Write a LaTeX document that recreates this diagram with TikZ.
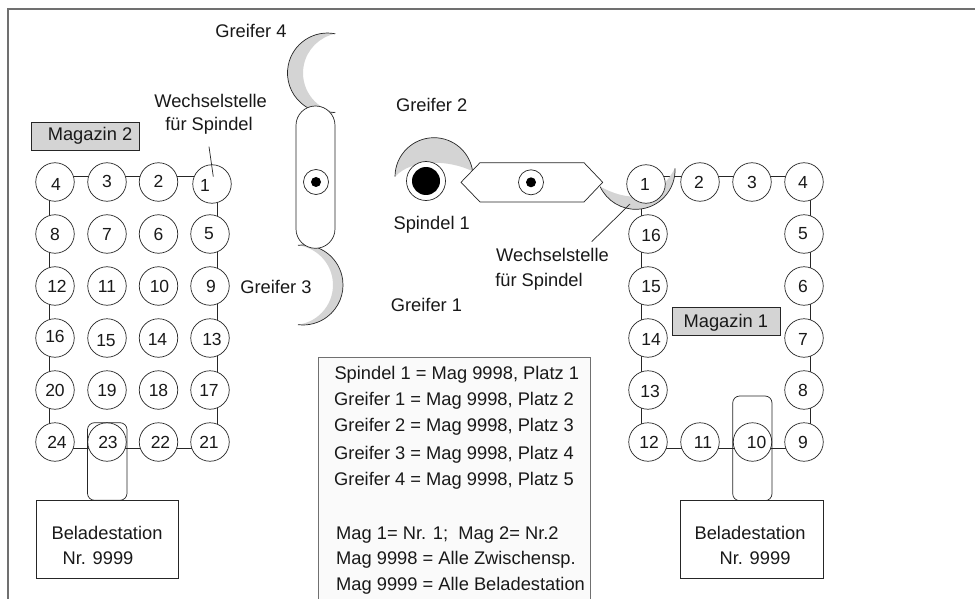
\documentclass[tikz,border=0pt]{standalone}
\usepackage{fontspec}
\setmainfont{Liberation Sans}
\definecolor{grip}{HTML}{D4D4D4}
\definecolor{frame}{HTML}{707070}
\tikzset{
  lbl/.style={inner sep=0pt,font=\fontsize{18.3}{20}\selectfont,text=black!90},
  llbl/.style={lbl,anchor=base west},
  slot/.style={circle,draw=black!85,line width=.7pt,fill=white,minimum size=38.5pt,inner sep=0pt},
  slotnum/.style={inner sep=0pt,font=\fontsize{17.5}{20}\selectfont,text=black!90},
  wire/.style={draw=black!85,line width=.7pt},
  outl/.style={draw=black!85,line width=.7pt},
  tag/.style={draw=black!85,line width=.7pt,fill=grip,inner sep=0pt,minimum width=108pt,minimum height=27.5pt,text=black},
  stat/.style={draw=black!85,line width=.7pt,fill=white,inner sep=0pt,minimum width=142.5pt,minimum height=78pt},
  piv/.style={circle,draw=black!85,line width=.7pt,fill=white,minimum size=25pt,inner sep=0pt},
  pivdot/.style={circle,fill=black,minimum size=10pt,inner sep=0pt},
}
\begin{document}
\begin{tikzpicture}[x=1pt,y=1pt,yscale=-1]
\useasboundingbox (0,0) rectangle (975,599);
\fill[white] (0,0) rectangle (975,599);
% frame
\coordinate (fbl) at (8,599); \coordinate (ftl) at (8,9); \coordinate (ftr) at (975,9);
\draw[frame,line width=1.4pt] (fbl) -- (ftl) -- (ftr);
% legend box
\coordinate (bbl) at (318,599); \coordinate (btl) at (318,357.5); \coordinate (btr) at (590,357.5); \coordinate (bbr) at (590,599);
\fill[black!2] (bbl) -- (btl) -- (btr) -- (bbr) -- cycle;
\draw[frame,line width=.9pt] (bbl) -- (btl) -- (btr) -- (bbr);
% slot centres
\foreach \n/\x/\y in {l4/55/182,l3/107/182,l2/158.5/182,l1/212/184,
  l8/55/234,l7/107/234,l6/158.5/234,l5/210/234,
  l12/55/286,l11/107/286,l10/158.5/286,l9/210/286,
  l16/55/338,l15/107/338,l14/158.5/338,l13/210/338,
  l20/55/390,l19/107/390,l18/158.5/390,l17/210/390,
  l24/55/442,l23/107/442,l22/158.5/442,l21/210/442,
  r1/646/184,r2/700/182,r3/752/182,r4/804/182,
  r16/648/234,r15/648/286,r14/648/338,r13/648/390,
  r5/804/234,r6/804/286,r7/804/338,r8/804/390,
  r12/648/442,r11/700/442,r10/752.5/442,r9/804/442}
  {\coordinate (c\n) at (\x,\y);}
% wire levels
\coordinate (wlt) at (49,176.7);
\coordinate (wlb) at (217.5,448);
\coordinate (wrt) at (641.7,176);
\coordinate (wrb) at (810,448);
% wires
\draw[wire] (cl4 |- wlt) -- (cl1 |- wlt);
\draw[wire] (cl24 |- wlb) -- (cl21 |- wlb);
\draw[wire] (wlt |- cl4) -- (wlt |- cl24);
\draw[wire] (wlb |- cl1) -- (wlb |- cl21);
\draw[wire] (cr1 |- wrt) -- (cr4 |- wrt);
\draw[wire] (cr12 |- wrb) -- (cr9 |- wrb);
\draw[wire] (wrb |- cr4) -- (wrb |- cr9);
\draw[wire] (wrt |- cr1) -- (wrt |- cr12);
% gripper 1 crescent
\fill[grip] (675,168.3) arc[start angle=-2.5,end angle=155,radius=39.3pt]
   .. controls (625,200) and (655,205) .. (675,168.3) -- cycle;
\draw[outl] (675,168.3) arc[start angle=-2.5,end angle=155,radius=39.3pt];
% gripper 2 crescent
\fill[grip] (395,176.7) arc[start angle=180,end angle=352,radius=39pt]
   .. controls (450,160) and (412,158) .. (395,176.7) -- cycle;
\draw[outl] (395,176.7) arc[start angle=180,end angle=352,radius=39pt];
% gripper 4 crescent
\fill[grip] (335.25,33.8) arc[start angle=-78.8,end angle=-281.2,radius=40pt]
   arc[start angle=101.2,end angle=258.8,radius=40pt] -- cycle;
\draw[outl] (335.25,33.8) arc[start angle=-78.8,end angle=-281.2,radius=40pt];
% gripper 3 crescent
\fill[grip] (298,245.3) arc[start angle=-97.2,end angle=97.2,radius=40pt]
   arc[start angle=82.8,end angle=-82.8,radius=40pt] -- cycle;
\draw[outl] (298,245.3) arc[start angle=-97.2,end angle=97.2,radius=40pt];
% capsule
\draw[outl,fill=white,rounded corners=19.4pt] (296,106) rectangle (335,248.3);
\node[piv] (pv) at (316,182) {}; \node[pivdot] (pvd) at (pv) {};
% hexagon
\draw[outl,fill=white] (461,182.3) -- (480,162.7) -- (584,162.7) -- (602.7,182.3) -- (584,202) -- (480,202) -- cycle;
\node[piv] (ph) at (531,182.3) {}; \node[pivdot] (phd) at (ph) {};
% spindle
\node[circle,draw=black!85,line width=.7pt,fill=white,minimum size=39pt,inner sep=0pt] (sp) at (426,181) {};
\node[circle,fill=black,minimum size=28pt,inner sep=0pt] (spd) at (sp) {};
% slots
\foreach \n/\t/\dx/\dy in {l4/4/1/2,l3/3/0/-1,l2/2/0/-1,l1/1/-7/1,
  l8/8/0/0,l7/7/0/0,l6/6/0/0,l5/5/-1/0,
  l12/12/2/0,l11/11/0/0,l10/10/1/0,l9/9/1/0,
  l16/16/0/-2,l15/15/-1/3,l14/14/-1/1,l13/13/2/1,
  l20/20/0/0,l19/19/0/0,l18/18/0/0,l17/17/-1/0,
  l24/24/2/0,l23/23/1/0,l22/22/2/0,l21/21/-1/0,
  r1/1/-1/0,r2/2/-1/0,r3/3/0/0,r4/4/-1/0,
  r16/16/3/1,r15/15/3/1,r14/14/3/1,r13/13/2/1,
  r5/5/-1/0,r6/6/-1/0,r7/7/-1/1,r8/8/-1/0,
  r12/12/1/0,r11/11/3/0,r10/10/4/0,r9/9/-1/0}
  {\node[slot] (\n) at (c\n) {}; \path (c\n) ++(\dx,\dy) node[slotnum] (t\n) {\t};}
% loading slides
\draw[outl,rounded corners=7pt] (87.5,422.7) rectangle (127,500.3);
\draw[outl,rounded corners=7pt] (732.7,396) rectangle (772,500.7);
% stations
\node[stat] (sl) at (107.2,539) {};
\node[stat] (sr) at (752,539) {};
\node[lbl] (sl1) at (107,533) {Beladestation};
\node[lbl] (sl2) at (98,558.5) {Nr. 9999};
\node[lbl] (sr1) at (750,533) {Beladestation};
\node[lbl] (sr2) at (755,558.5) {Nr. 9999};
% tags
\node[tag] (m2) at (85.2,136.5) {}; \node[lbl] (m2t) at (90,136) {Magazin 2};
\node[tag] (m1) at (726.5,321.5) {}; \node[lbl] (m1t) at (725.8,322.5) {Magazin 1};
% labels
\node[lbl] (g4) at (251,31) {Greifer 4};
\node[lbl] (g2) at (431.7,105) {Greifer 2};
\node[lbl] (g3) at (276,287) {Greifer 3};
\node[lbl] (g1) at (426.5,305) {Greifer 1};
\node[lbl] (s1) at (431.7,225) {Spindel 1};
\node[lbl] (wl1) at (210.6,101) {Wechselstelle};
\node[lbl] (wl2) at (209,126) {für Spindel};
\node[lbl] (wr1) at (552.5,255) {Wechselstelle};
\node[lbl] (wr2) at (539,282) {für Spindel};
\coordinate (la) at (209,146.7); \coordinate (lb) at (213.3,176.7);
\draw[wire] (la) -- (lb);
\coordinate (ra) at (630,204); \coordinate (rb) at (591.7,241.7);
\draw[wire] (ra) -- (rb);
% legend
\node[llbl] (a1) at (334.3,379.3) {Spindel 1 = Mag 9998, Platz 1};
\node[llbl] (a2) at (334,405) {Greifer 1 = Mag 9998, Platz 2};
\node[llbl] (a3) at (334,431) {Greifer 2 = Mag 9998, Platz 3};
\node[llbl] (a4) at (334,459.3) {Greifer 3 = Mag 9998, Platz 4};
\node[llbl] (a5) at (334,485.3) {Greifer 4 = Mag 9998, Platz 5};
\node[llbl] (a6) at (336,539.3) {Mag 1= Nr. 1;\ \ Mag 2= Nr.2};
\node[llbl] (a7) at (336,564) {Mag 9998 = Alle Zwischensp.};
\node[llbl] (a8) at (336,590) {Mag 9999 = Alle Beladestation};
\end{tikzpicture}
\end{document}
